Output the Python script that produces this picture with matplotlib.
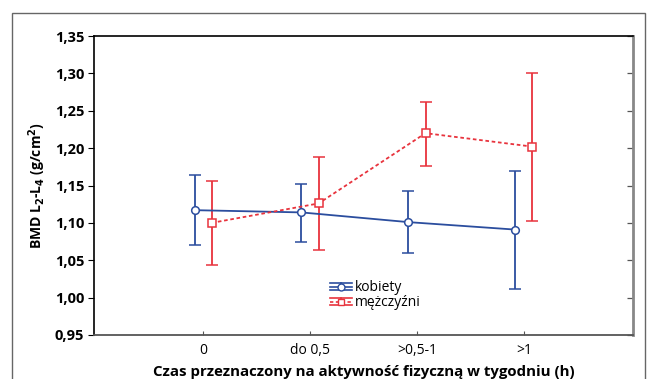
import numpy as np
import matplotlib.pyplot as plt
from matplotlib.patches import Rectangle
from matplotlib.lines import Line2D
from matplotlib.legend_handler import HandlerBase

# data
categories = ['0', 'do 0,5', '>0,5-1', '>1']
women = [1.117, 1.114, 1.101, 1.091]
women_lo = [1.071, 1.075, 1.060, 1.012]
women_hi = [1.164, 1.152, 1.143, 1.170]
men = [1.100, 1.126, 1.220, 1.202]
men_lo = [1.044, 1.064, 1.176, 1.103]
men_hi = [1.156, 1.188, 1.262, 1.301]
yticks = [0.95, 1.00, 1.05, 1.10, 1.15, 1.20, 1.25, 1.30, 1.35]
ytick_labels = ['0,95', '1,00', '1,05', '1,10', '1,15', '1,20', '1,25', '1,30', '1,35']

plt.rcParams['font.family'] = ['Open Sans', 'DejaVu Sans']

blue = '#2b4d9e'
red = '#e8333d'


# legend key: line with marker between two cap lines, like the original
class CapHandler(HandlerBase):
    def create_artists(self, legend, orig, xd, yd, w, h, fontsize, trans):
        st = orig.style
        mid = h / 2 - yd
        gap = h * 0.4
        arts = []
        arts.append(Line2D([-xd, -xd + w], [mid, mid], color=st['color'], lw=1.2, ls=st['ls']))
        for dy in (-gap, gap):
            arts.append(Line2D([-xd, -xd + w], [mid + dy, mid + dy], color=st['color'], lw=1.2))
        arts.append(Line2D([-xd + w / 2] * 2, [mid - gap, mid + gap], color=st['color'], lw=1.2))
        arts.append(Line2D([-xd + w / 2], [mid], marker=st['marker'], ms=5, mfc='white',
                           mec=st['color'], mew=1.0, ls='none'))
        for a in arts:
            a.set_transform(trans)
        return arts


class Key:
    def __init__(self, **style):
        self.style = style


fig = plt.figure(figsize=(6.49, 3.79), dpi=100)
ax = fig.add_axes([94 / 649, 44 / 379, 539 / 649, 299 / 379])

x = np.arange(1, len(categories) + 1)
off = 0.08

w = np.array(women)
m = np.array(men)
ax.errorbar(x - off, w, yerr=[w - np.array(women_lo), np.array(women_hi) - w],
            color=blue, lw=1.3, marker='o', ms=5.5, mfc='white', mec=blue, mew=1.1,
            capsize=4.5, capthick=1.3, elinewidth=1.3)
ax.errorbar(x + off, m, yerr=[m - np.array(men_lo), np.array(men_hi) - m],
            color=red, lw=1.3, ls=(0, (2, 1.5)), marker='s', ms=5.5, mfc='white', mec=red, mew=1.1,
            capsize=4.5, capthick=1.3, elinewidth=1.3)

ax.set_xlim(-0.02, 5.02)
ax.set_ylim(0.95, 1.35)
ax.set_xticks(x)
ax.set_xticklabels(categories, fontsize=10)
ax.set_yticks(yticks)
ax.set_yticklabels(ytick_labels, fontsize=10.5, fontweight='bold')

ax.tick_params(axis='x', direction='in', length=3, width=0.8, color='#555555', pad=6)
ax.tick_params(axis='y', direction='out', length=4, width=0.8, pad=3)

# right spine has inward ticks
sec = ax.secondary_yaxis('right')
sec.set_yticks(yticks)
sec.set_yticklabels([])
sec.tick_params(direction='in', length=4, width=0.9, color='#555555')
sec.spines['right'].set_color('#888888')
sec.spines['right'].set_linewidth(2.0)
ax.spines['right'].set_visible(False)

for s in ['left', 'top']:
    ax.spines[s].set_linewidth(1.2)
    ax.spines[s].set_color('black')
ax.spines['bottom'].set_color('#555555')
ax.spines['bottom'].set_linewidth(1.3)

ax.set_xlabel('Czas przeznaczony na aktywność fizyczną w tygodniu (h)', fontsize=10.8,
              fontweight='bold', labelpad=5)
ax.set_ylabel('BMD L$_\\mathbf{2}$-L$_\\mathbf{4}$ (g/cm$^\\mathbf{2}$)', fontsize=10,
              fontweight='bold', labelpad=5)

keys = [Key(color=blue, ls='-', marker='o'), Key(color=red, ls=(0, (2, 1.5)), marker='s')]
ax.legend(keys, ['kobiety', 'mężczyźni'], handler_map={Key: CapHandler()},
          loc='upper left', bbox_to_anchor=(0.42, 0.215), frameon=False, fontsize=10,
          handlelength=1.6, handletextpad=0.2, labelspacing=0.0, borderpad=0.2)

# outer frame around the whole figure
fig.add_artist(Rectangle((12 / 649, -0.1), (645 - 12) / 649, (379 - 13) / 379 + 0.1,
                         transform=fig.transFigure, fill=False, ec='#666666', lw=1.0))

fig.savefig('out.png', dpi=100)
